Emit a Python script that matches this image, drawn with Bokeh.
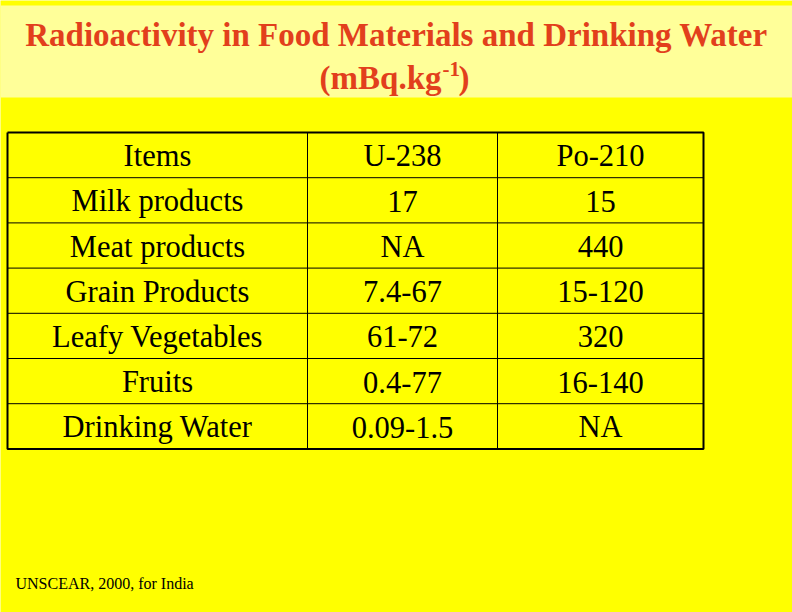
from bokeh.plotting import figure
from bokeh.models import Range1d, ColumnDataSource
from bokeh.core.properties import value
from bokeh.embed import file_html
from bokeh.resources import INLINE

# ---- data ----
headers = ["Items", "U-238", "Po-210"]
items = ["Milk products", "Meat products", "Grain Products",
         "Leafy Vegetables", "Fruits", "Drinking Water"]
u238 = ["17", "NA", "7.4-67", "61-72", "0.4-77", "0.09-1.5"]
po210 = ["15", "440", "15-120", "320", "16-140", "NA"]
title_line1 = "Radioactivity in Food Materials and Drinking Water"
title_line2 = "(mBq.kg"
title_sup = "-1"
title_close = ")"
source_note = "UNSCEAR, 2000, for India"

# ---- layout (page pixel coordinates) ----
W, H = 792, 612
p = figure(width=W, height=H, output_backend="svg", toolbar_location=None,
           x_range=Range1d(0, W), y_range=Range1d(H, 0),
           min_border=0)
p.axis.visible = False
p.grid.visible = False
p.outline_line_color = None
p.background_fill_color = "#FFFF00"
p.border_fill_color = "#FFFF00"

SERIF = value("Liberation Serif")
RED = "#E23F1C"

# title band
p.quad(left=[0], right=[W], top=[5], bottom=[97], fill_color="#FFFF99", line_color=None)
p.text(x=[396], y=[34], text=[title_line1], text_font=SERIF, text_font_style="bold",
       text_font_size="33px", text_color=RED, text_align="center", text_baseline="middle")
p.text(x=[441], y=[77], text=[title_line2], text_font=SERIF, text_font_style="bold",
       text_font_size="33px", text_color=RED, text_align="right", text_baseline="middle")
p.text(x=[442], y=[68], text=[title_sup], text_font=SERIF, text_font_style="bold",
       text_font_size="21px", text_color=RED, text_align="left", text_baseline="middle")
p.text(x=[458], y=[77], text=[title_close], text_font=SERIF, text_font_style="bold",
       text_font_size="33px", text_color=RED, text_align="left", text_baseline="middle")

# table grid
col_edges = [7, 307, 497, 703]
top, row_h = 132, 45.2
nrows = len(items) + 1
row_edges = [top + i * row_h for i in range(nrows + 1)]

# inner lines
xs, ys = [], []
for y in row_edges[1:-1]:
    xs.append([col_edges[0], col_edges[-1]]); ys.append([y, y])
for x in col_edges[1:-1]:
    xs.append([x, x]); ys.append([row_edges[0], row_edges[-1]])
p.multi_line(xs=xs, ys=ys, line_color="#000000", line_width=1)
# outer border
p.multi_line(xs=[[col_edges[0], col_edges[-1], col_edges[-1], col_edges[0], col_edges[0]]],
             ys=[[row_edges[0], row_edges[0], row_edges[-1], row_edges[-1], row_edges[0]]],
             line_color="#000000", line_width=2)

# cell texts
cx = [(col_edges[i] + col_edges[i + 1]) / 2 for i in range(3)]
tx, ty, tt = [], [], []
columns = [[headers[0]] + items, [headers[1]] + u238, [headers[2]] + po210]
for c, col in enumerate(columns):
    for r, t in enumerate(col):
        tx.append(cx[c]); ty.append(row_edges[r] + row_h / 2 + 1); tt.append(t)
src = ColumnDataSource(dict(x=tx, y=ty, text=tt))
p.text(x="x", y="y", text="text", source=src, text_font=SERIF, text_font_size="30.5px",
       text_color="#000000", text_align="center", text_baseline="middle")

# source note
p.text(x=[15], y=[583], text=[source_note], text_font=SERIF, text_font_size="16px",
       text_color="#000000", text_align="left", text_baseline="middle")

open("out.html", "w").write(file_html(p, INLINE))
